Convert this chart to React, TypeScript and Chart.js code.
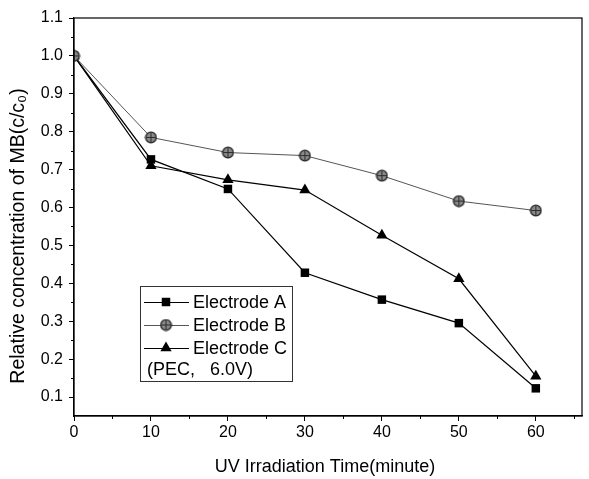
import React, { useEffect, useRef } from 'react';
import { Chart, registerables } from 'chart.js';

Chart.register(...registerables);

const times = [0, 10, 20, 30, 40, 50, 60];
const electrodeA = [1.0, 0.727, 0.649, 0.428, 0.357, 0.295, 0.123];
const electrodeB = [1.0, 0.785, 0.745, 0.737, 0.684, 0.617, 0.592];
const electrodeC = [1.0, 0.71, 0.673, 0.646, 0.527, 0.412, 0.155];
const xTicks = [0, 10, 20, 30, 40, 50, 60];
const yTicks = [0.1, 0.2, 0.3, 0.4, 0.5, 0.6, 0.7, 0.8, 0.9, 1.0, 1.1];
const xMinorTicks = [5, 15, 25, 35, 45, 55, 65];
const yMinorTicks = [0.15, 0.25, 0.35, 0.45, 0.55, 0.65, 0.75, 0.85, 0.95, 1.05];
const legendLabels = ['Electrode A', 'Electrode B', 'Electrode C'];
const legendNote = '(PEC,   6.0V)';
const xTitle = 'UV Irradiation Time(minute)';
const yTitle = 'Relative concentration of MB(c/c\u2080)';

const FONT = "'Liberation Sans', Arial, sans-serif";

function makeBMarker(): HTMLCanvasElement {
  const c = document.createElement('canvas');
  c.width = 13;
  c.height = 13;
  const g = c.getContext('2d')!;
  g.beginPath();
  g.arc(6.5, 6.5, 5.3, 0, Math.PI * 2);
  g.fillStyle = '#8a8a8a';
  g.fill();
  g.lineWidth = 1.3;
  g.strokeStyle = '#222';
  g.stroke();
  g.beginPath();
  g.moveTo(6.5, 1.8);
  g.lineTo(6.5, 11.2);
  g.moveTo(1.8, 6.5);
  g.lineTo(11.2, 6.5);
  g.lineWidth = 1;
  g.strokeStyle = '#2a2a2a';
  g.stroke();
  return c;
}

function drawMarker(ctx: CanvasRenderingContext2D, kind: number, x: number, y: number, bImg: HTMLCanvasElement) {
  ctx.save();
  ctx.fillStyle = '#000';
  if (kind === 0) {
    const s = 6 / Math.SQRT2;
    ctx.fillRect(x - s, y - s, 2 * s, 2 * s);
  } else if (kind === 1) {
    ctx.drawImage(bImg, x - 6.5, y - 6.5);
  } else {
    const r = 6.5;
    ctx.beginPath();
    ctx.moveTo(x, y - r);
    ctx.lineTo(x + r * Math.sin(Math.PI / 3), y + r * 0.5);
    ctx.lineTo(x - r * Math.sin(Math.PI / 3), y + r * 0.5);
    ctx.closePath();
    ctx.fill();
  }
  ctx.restore();
}

export default function App() {
  const ref = useRef<HTMLCanvasElement | null>(null);

  useEffect(() => {
    if (!ref.current) return;
    const bImg = makeBMarker();

    const decorPlugin = {
      id: 'decor',
      afterDatasetsDraw(chart: any) {
        const ctx: CanvasRenderingContext2D = chart.ctx;
        const { left, right, top, bottom } = chart.chartArea;
        const xs = chart.scales.x;
        const ys = chart.scales.y;
        ctx.save();
        // frame
        ctx.strokeStyle = '#000';
        ctx.lineWidth = 1.2;
        ctx.strokeRect(left, top, right - left, bottom - top);
        // minor ticks
        ctx.lineWidth = 1;
        ctx.beginPath();
        xMinorTicks.forEach((v) => {
          const px = Math.round(xs.getPixelForValue(v)) + 0.5;
          if (px <= right) {
            ctx.moveTo(px, bottom);
            ctx.lineTo(px, bottom + 3);
          }
        });
        yMinorTicks.forEach((v) => {
          const py = Math.round(ys.getPixelForValue(v)) + 0.5;
          ctx.moveTo(left, py);
          ctx.lineTo(left - 3, py);
        });
        ctx.stroke();

        // axis titles
        ctx.fillStyle = '#000';
        ctx.font = `18px ${FONT}`;
        ctx.textAlign = 'center';
        ctx.textBaseline = 'middle';
        ctx.fillText(xTitle, 325, 467);
        ctx.save();
        ctx.font = `19.5px ${FONT}`;
        ctx.translate(19, 236);
        ctx.rotate(-Math.PI / 2);
        ctx.fillText(yTitle, 0, 0);
        ctx.restore();

        // legend
        const bx = 140, by = 286, bw = 152, bh = 95;
        ctx.fillStyle = '#fff';
        ctx.fillRect(bx, by, bw, bh);
        ctx.strokeStyle = '#333';
        ctx.lineWidth = 1;
        ctx.strokeRect(bx + 0.5, by + 0.5, bw, bh);
        const rows = [302, 325, 348];
        ctx.font = `18px ${FONT}`;
        ctx.textBaseline = 'middle';
        ctx.textAlign = 'left';
        rows.forEach((ry, i) => {
          ctx.beginPath();
          ctx.strokeStyle = i === 1 ? '#555' : '#000';
          ctx.lineWidth = 1;
          ctx.moveTo(144, ry + 0.5);
          ctx.lineTo(189, ry + 0.5);
          ctx.stroke();
          drawMarker(ctx, i, 166, ry, bImg);
          ctx.fillStyle = '#000';
          ctx.fillText(legendLabels[i], 193, ry + 1);
        });
        ctx.fillText(legendNote, 147, 370);
        ctx.restore();
      },
    };

    const toPts = (arr: number[]) => times.map((t, i) => ({ x: t, y: arr[i] }));

    const chart = new Chart(ref.current, {
      type: 'line',
      data: {
        datasets: [
          {
            label: legendLabels[1],
            data: toPts(electrodeB),
            borderColor: '#555',
            borderWidth: 1,
            pointStyle: bImg as any,
            pointRadius: 6,
            backgroundColor: '#999',
          },
          {
            label: legendLabels[2],
            data: toPts(electrodeC),
            borderColor: '#000',
            borderWidth: 1.2,
            pointStyle: 'triangle',
            pointRadius: 6.5,
            pointBackgroundColor: '#000',
            pointBorderColor: '#000',
            pointBorderWidth: 0,
          },
          {
            label: legendLabels[0],
            data: toPts(electrodeA),
            borderColor: '#000',
            borderWidth: 1.2,
            pointStyle: 'rect',
            pointRadius: 6,
            pointBackgroundColor: '#000',
            pointBorderColor: '#000',
            pointBorderWidth: 0,
          },
        ],
      },
      options: {
        animation: false,
        responsive: false,
        devicePixelRatio: 1,
        layout: { padding: { top: 18, right: 7, left: 0, bottom: 0 } },
        plugins: { legend: { display: false }, tooltip: { enabled: false } },
        elements: { line: { tension: 0 } },
        scales: {
          x: {
            type: 'linear',
            min: 0,
            max: 66,
            afterFit: (s: any) => {
              s.height = 63;
            },
            afterBuildTicks: (s: any) => {
              s.ticks = xTicks.map((v) => ({ value: v }));
            },
            border: { display: true, color: '#000', width: 1.2 },
            grid: { drawOnChartArea: false, drawTicks: true, tickLength: 5, color: '#000' },
            ticks: {
              color: '#000',
              font: { family: FONT, size: 16 },
              padding: 2,
              maxRotation: 0,
              autoSkip: false,
              callback: (v: any) => String(v),
            },
            title: { display: false, text: xTitle },
          },
          y: {
            type: 'linear',
            min: 0.05,
            max: 1.1,
            afterFit: (s: any) => {
              s.width = 74;
            },
            afterBuildTicks: (s: any) => {
              s.ticks = yTicks.map((v) => ({ value: v }));
            },
            border: { display: true, color: '#000', width: 1.2 },
            grid: { drawOnChartArea: false, drawTicks: true, tickLength: 5, color: '#000' },
            ticks: {
              color: '#000',
              font: { family: FONT, size: 16 },
              padding: 6,
              autoSkip: false,
              callback: (v: any) => Number(v).toFixed(1),
            },
            title: { display: false, text: yTitle },
          },
        },
      },
      plugins: [decorPlugin],
    });

    return () => chart.destroy();
  }, []);

  return (
    <div style={{ position: 'fixed', left: 0, top: 0, width: 589, height: 479, background: '#fff' }}>
      <canvas ref={ref} width={589} height={479} style={{ display: 'block' }} />
    </div>
  );
}
